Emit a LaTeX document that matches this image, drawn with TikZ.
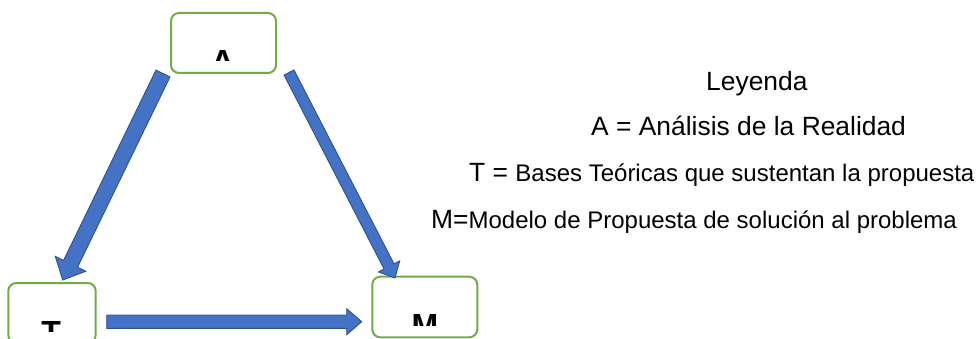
\documentclass[tikz,border=0pt]{standalone}
\usepackage{fontspec}
\setmainfont{Liberation Sans}
\usetikzlibrary{calc}
\definecolor{boxgreen}{HTML}{70AD47}
\definecolor{arrowfill}{HTML}{4472C4}
\definecolor{arrowline}{HTML}{2F528F}
\newcommand\blkarrow[5]{%
  \coordinate (hb) at ($(#2)!#5!(#1)$);
  \filldraw[blockarrow] ($(#1)!#3!90:(#2)$) -- ($(hb)!#3!-90:(#1)$) -- ($(hb)!#4!-90:(#1)$) -- (#2)
    -- ($(hb)!#4!90:(#1)$) -- ($(hb)!#3!90:(#1)$) -- ($(#1)!#3!-90:(#2)$) -- cycle;}
\begin{document}
\begin{tikzpicture}[x=1pt,y=-1pt,
  greenbox/.style={draw=boxgreen, line width=2pt, rounded corners=8pt, fill=white, inner sep=0pt},
  blockarrow/.style={fill=arrowfill, draw=arrowline, line width=0.9pt, line join=miter},
  letter/.style={inner sep=0pt, font=\fontsize{32}{36}\selectfont\bfseries},
  legend/.style={inner sep=0pt, anchor=base west},
  big/.style={font=\fontsize{26.4}{30}\selectfont}]
\useasboundingbox (0,0) rectangle (979,339);
% boxes
\node[greenbox, minimum width=105pt, minimum height=60pt] (A) at (223.5,43) {};
\node[greenbox, minimum width=87.4pt, minimum height=60pt] (T) at (52,313) {};
\node[greenbox, minimum width=105pt, minimum height=60.6pt] (M) at (424.8,307) {};
% clipped letters
\begin{scope}
  \clip (171,13) rectangle (276,60.7);
  \node[letter, anchor=base] (lA) at (222.8,72.9) {A};
\end{scope}
\begin{scope}
  \clip (8,283) rectangle (96,331.7);
  \node[letter, anchor=base] (lT) at (51.2,343.9) {T};
\end{scope}
\begin{scope}
  \clip (372,277) rectangle (477,325.3);
  \node[letter, anchor=base] (lM) at (425,336.9) {M};
\end{scope}
% arrow end points
\coordinate (a1s) at (163,73.5);
\coordinate (a1e) at (62.7,280);
\coordinate (a2s) at (289,72.5);
\coordinate (a2e) at (395,278);
\coordinate (a3s) at (106.7,321.7);
\coordinate (a3e) at (361.7,321.7);
\blkarrow{a1s}{a1e}{7.8pt}{17pt}{18pt}
\blkarrow{a2s}{a2e}{5.6pt}{12pt}{13pt}
\blkarrow{a3s}{a3e}{6.7pt}{13pt}{15pt}
% legend
\node[legend, big] (ley) at (706,91) {Leyenda};
\node[legend, big] (lgA) at (591,136) {A = Análisis de la Realidad};
\node[legend] (lgT) at (469,182) {{\fontsize{26.4}{30}\selectfont T = }{\fontsize{24}{28}\selectfont Bases Teóricas que sustentan la propuesta}};
\node[legend] (lgM) at (431,228) {{\fontsize{26.4}{30}\selectfont M=}{\fontsize{24}{28}\selectfont Modelo de Propuesta de solución al problema}};
\end{tikzpicture}
\end{document}
